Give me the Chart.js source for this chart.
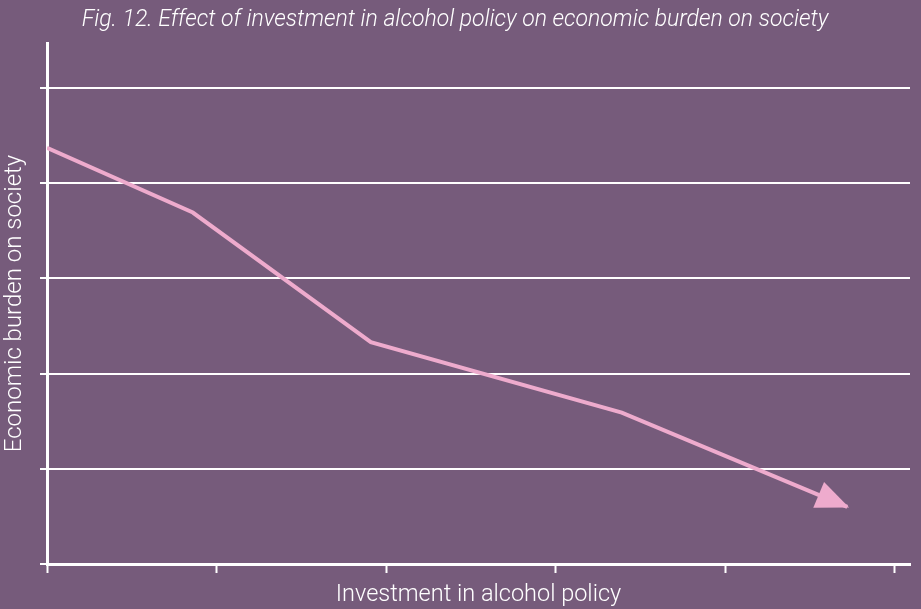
<!DOCTYPE html>
<html>
<head>
<meta charset="utf-8">
<script src="https://cdn.jsdelivr.net/npm/chart.js@4.4.1/dist/chart.umd.min.js"></script>
<style>
  html, body { margin: 0; padding: 0; background: #765b7b; }
  canvas { display: block; }
</style>
</head>
<body>
<canvas id="chart" width="921" height="609"></canvas>
<script>
// policy investment (x) against burden on society (y), no units on either axis
const investment = [0, 0.86, 1.91, 3.39, 4.72];
const burden = [4.37, 3.69, 2.33, 1.59, 0.60];
const xTicks = [0, 1, 2, 3, 4, 5];
const yTicks = [0, 1, 2, 3, 4, 5];

const PINK = '#eeabcd';
const WHITE = '#ffffff';
const FONT = 'Roboto, "Open Sans", sans-serif';

// arrow head on the end of the line, turned along the last segment
const arrowHead = {
  id: 'arrowHead',
  afterDatasetsDraw(chart) {
    const pts = chart.getDatasetMeta(0).data;
    if (pts.length < 2) return;
    const tip = pts[pts.length - 1];
    const prev = pts[pts.length - 2];
    const ang = Math.atan2(tip.y - prev.y, tip.x - prev.x);
    const len = 31, half = 14;
    const ctx = chart.ctx;
    ctx.save();
    ctx.translate(tip.x, tip.y);
    ctx.rotate(ang);
    ctx.beginPath();
    ctx.moveTo(2, 0);
    ctx.lineTo(-len, -half);
    ctx.lineTo(-len, half);
    ctx.closePath();
    ctx.fillStyle = PINK;
    ctx.fill();
    ctx.restore();
  }
};

new Chart(document.getElementById('chart'), {
  type: 'line',
  data: {
    datasets: [{
      data: investment.map((x, i) => ({ x: x, y: burden[i] })),
      borderColor: PINK,
      borderWidth: 4,
      borderCapStyle: 'butt',
      pointRadius: 0,
      tension: 0,
      fill: false
    }]
  },
  options: {
    responsive: false,
    animation: false,
    layout: { padding: { top: 0, right: 11, bottom: 0, left: 0 } },
    plugins: {
      legend: { display: false },
      tooltip: { enabled: false },
      title: {
        display: true,
        text: 'Fig. 12. Effect of investment in alcohol policy on economic burden on society',
        color: WHITE,
        font: { family: FONT, size: 23, style: 'italic', weight: 300 },
        padding: { top: 6, bottom: 9.4 }
      }
    },
    scales: {
      x: {
        type: 'linear',
        min: 0,
        max: 5.09,
        afterBuildTicks: s => { s.ticks = xTicks.map(v => ({ value: v })); },
        afterFit: s => { s.height = 45; },
        ticks: { display: false },
        grid: {
          drawOnChartArea: false,
          drawTicks: true,
          tickLength: 9,
          tickColor: WHITE,
          tickWidth: 2
        },
        border: { display: true, color: WHITE, width: 3 },
        title: {
          display: true,
          text: 'Investment in alcohol policy',
          color: WHITE,
          font: { family: FONT, size: 23.5, weight: 300 },
          padding: { top: 0, bottom: 0 }
        }
      },
      y: {
        min: 0,
        max: 5.47,
        afterBuildTicks: s => { s.ticks = yTicks.map(v => ({ value: v })); },
        afterFit: s => { s.width = 47; },
        ticks: { display: false },
        grid: {
          color: WHITE,
          lineWidth: 2,
          drawTicks: true,
          tickLength: 7,
          tickColor: WHITE
        },
        border: { display: true, color: WHITE, width: 3 },
        title: {
          display: true,
          text: 'Economic burden on society',
          color: WHITE,
          font: { family: FONT, size: 24, weight: 300 },
          padding: { top: 1, bottom: 0 }
        }
      }
    }
  },
  plugins: [arrowHead]
});
</script>
</body>
</html>
